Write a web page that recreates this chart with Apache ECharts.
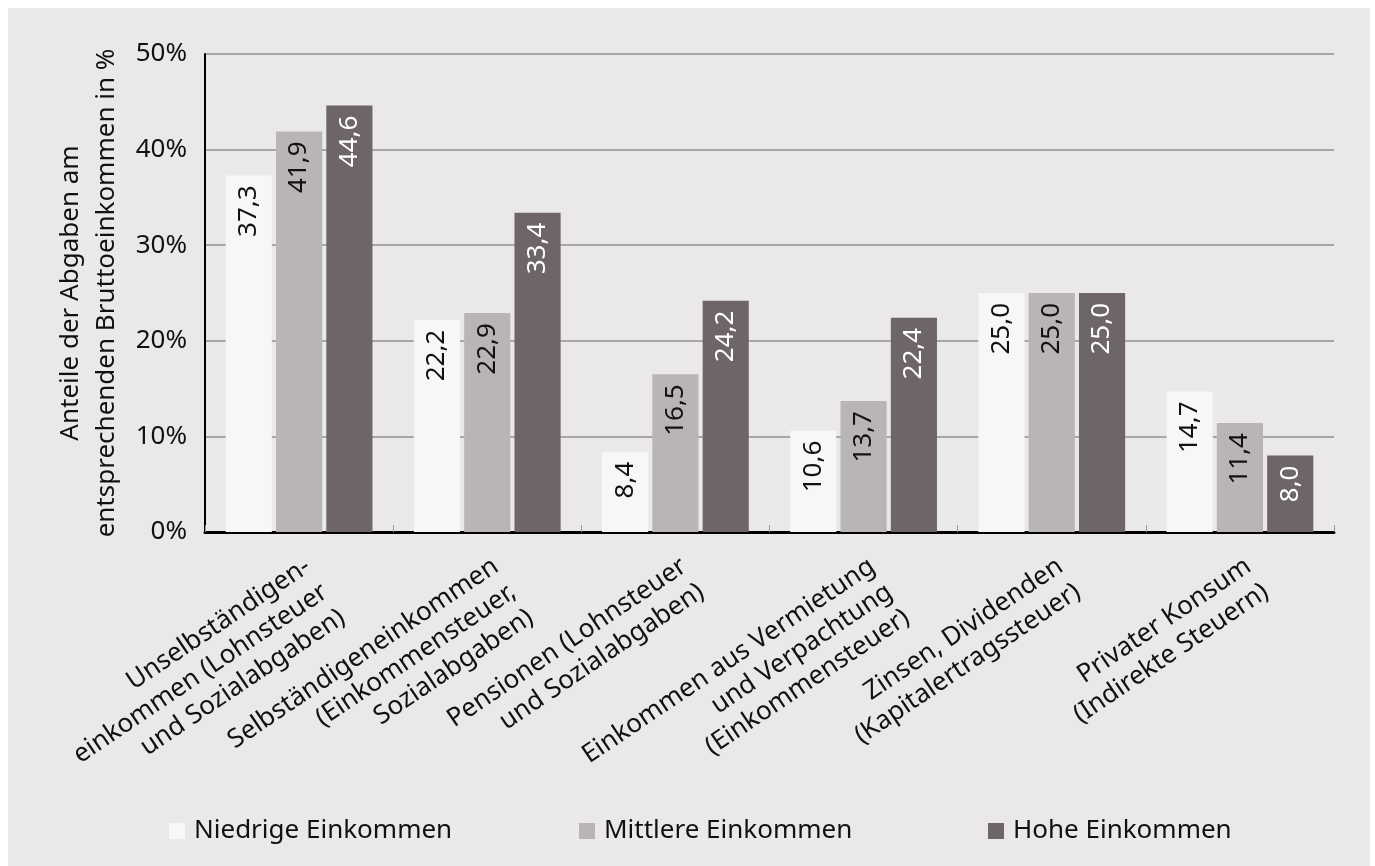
<!DOCTYPE html>
<html>
<head>
<meta charset="utf-8">
<script src="https://cdn.jsdelivr.net/npm/echarts@6/dist/echarts.min.js"></script>
<style>
html,body{margin:0;padding:0;background:#ffffff;width:1375px;height:866px;overflow:hidden;}
#chart{position:absolute;left:8px;top:8px;width:1362px;height:858px;background:#eae8e9;}
</style>
</head>
<body>
<div id="chart"></div>
<script>
const categories = [
  "Unselbständigen-\neinkommen (Lohnsteuer\nund Sozialabgaben)",
  "Selbständigeneinkommen\n(Einkommensteuer,\nSozialabgaben)",
  "Pensionen (Lohnsteuer\nund Sozialabgaben)",
  "Einkommen aus Vermietung\nund Verpachtung\n(Einkommensteuer)",
  "Zinsen, Dividenden\n(Kapitalertragssteuer)",
  "Privater Konsum\n(Indirekte Steuern)"
];
const seriesNames = ["Niedrige Einkommen", "Mittlere Einkommen", "Hohe Einkommen"];
const niedrig = [37.3, 22.2, 8.4, 10.6, 25.0, 14.7];
const mittel = [41.9, 22.9, 16.5, 13.7, 25.0, 11.4];
const hoch = [44.6, 33.4, 24.2, 22.4, 25.0, 8.0];
const yTicks = [0, 10, 20, 30, 40, 50];
const yAxisTitle = "Anteile der Abgaben am\nentsprechenden Bruttoeinkommen in %";

const FONT = "Noto Sans";
const FS = 26;
const colors = ["#f7f7f7", "#b9b4b7", "#6e6568"];
const labelColors = ["#111111", "#111111", "#ffffff"];
const allData = [niedrig, mittel, hoch];

const chart = echarts.init(document.getElementById('chart'));
const option = {
  animation: false,
  textStyle: { fontFamily: FONT },
  grid: { left: 197, right: 36, top: 46, bottom: 334, containLabel: false },
  legend: [0,1,2].map(i => ({
    data: [seriesNames[i]],
    left: [156, 566, 975][i],
    top: 805,
    itemWidth: 16, itemHeight: 16, itemGap: 0,
    icon: 'rect',
    textStyle: { fontFamily: FONT, fontSize: FS, color: '#111', padding: [0,0,0,4] }
  })),
  xAxis: {
    type: 'category',
    data: categories,
    axisLine: { show: true, lineStyle: { color: '#000', width: 3 } },
    axisTick: { show: true, inside: true, length: 7, lineStyle: { color: '#999', width: 1 } },
    axisLabel: {
      interval: 0,
      rotate: 34,
      margin: 19,
      align: 'right',
      verticalAlign: 'top',
      fontFamily: FONT, fontSize: FS, color: '#111', lineHeight: 31
    }
  },
  yAxis: {
    type: 'value',
    min: yTicks[0], max: yTicks[yTicks.length-1], interval: 10,
    name: yAxisTitle,
    nameLocation: 'middle',
    nameGap: 78,
    nameRotate: 90,
    nameTextStyle: { fontFamily: FONT, fontSize: FS, color: '#111', lineHeight: 36, align: 'center' },
    axisLine: { show: true, lineStyle: { color: '#000', width: 2 } },
    axisTick: { show: false },
    axisLabel: { margin: 18, fontFamily: FONT, fontSize: FS, color: '#111', formatter: v => v + '%' },
    splitLine: { show: true, lineStyle: { color: '#a8a6a7', width: 2 } }
  },
  series: [0,1,2].map(i => ({
    name: seriesNames[i],
    type: 'bar',
    data: allData[i],
    barGap: '9%',
    barCategoryGap: '22%',
    itemStyle: { color: colors[i] },
    label: {
      show: true,
      position: 'insideTop',
      rotate: 90,
      align: 'right',
      verticalAlign: 'middle',
      distance: 10,
      fontFamily: FONT, fontSize: FS,
      color: labelColors[i],
      formatter: p => p.value.toFixed(1).replace('.', ',')
    }
  }))
};
chart.setOption(option);
</script>
</body>
</html>
